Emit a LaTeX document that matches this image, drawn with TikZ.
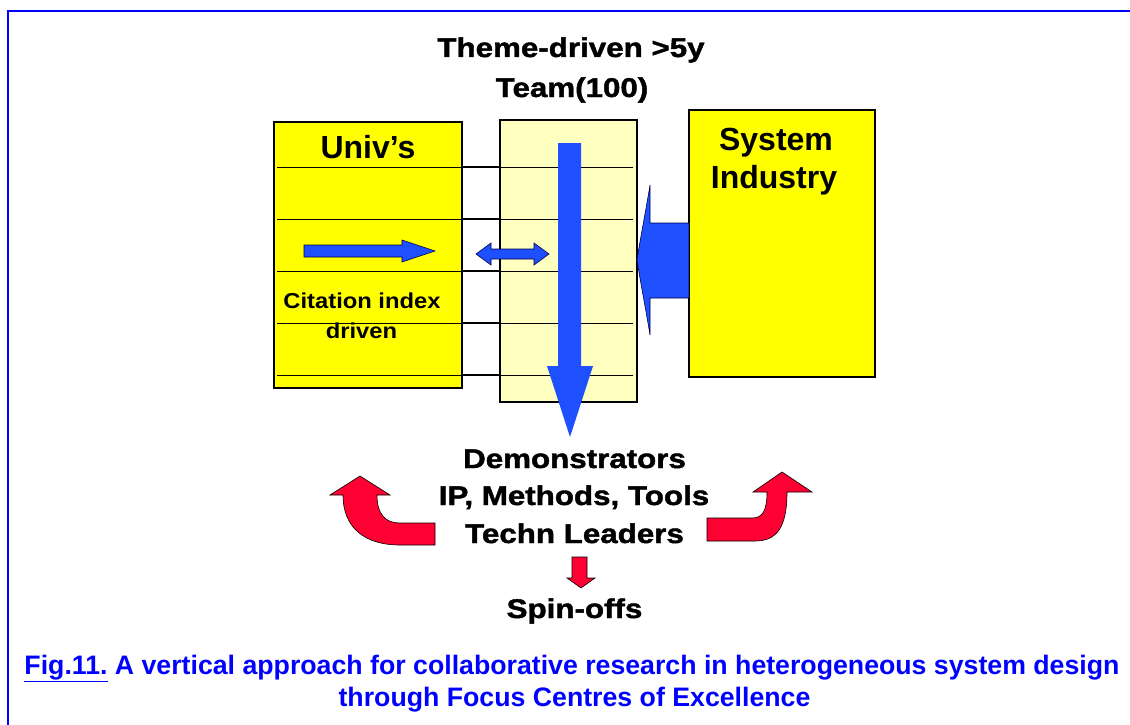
\documentclass[tikz,border=0pt]{standalone}
\usepackage{fontspec}
\setmainfont{Liberation Sans}
\newfontfamily\widefont{Liberation Sans}[FakeStretch=1.16, FakeBold=1.6]
\newfontfamily\midfont{Liberation Sans}[FakeStretch=1.1]
\definecolor{boxyellow}{RGB}{255,255,0}
\definecolor{paleyellow}{RGB}{255,255,192}
\definecolor{arrowblue}{RGB}{30,80,255}
\definecolor{arrowred}{RGB}{255,0,51}
\definecolor{frameblue}{RGB}{0,0,255}
\tikzset{
  boxnode/.style={draw=black, line width=1.2pt, inner sep=0pt},
  bigtext/.style={anchor=base, inner sep=0pt, font=\widefont\bfseries\fontsize{27}{32}\selectfont},
  boxtext/.style={anchor=base, inner sep=0pt, font=\bfseries\fontsize{32}{38}\selectfont},
  smalltext/.style={anchor=base, inner sep=0pt, font=\midfont\bfseries\fontsize{21.6}{26}\selectfont},
  captext/.style={anchor=base, inner sep=0pt, text=frameblue, font=\bfseries\fontsize{26.7}{32}\selectfont},
  bluearrow/.style={fill=arrowblue, draw=black!70!blue, line width=0.6pt},
  redarrow/.style={fill=arrowred, draw=black, line width=0.6pt},
  ruleline/.style={draw=black, line width=0.9pt},
  gapline/.style={draw=black, line width=1.8pt}
}
\begin{document}
\begin{tikzpicture}[x=1pt,y=-1pt]
\useasboundingbox (0,0) rectangle (1130,725);

% frame
\draw[frameblue, line width=2.5pt] (6.5,11) -- (1130,11);
\draw[frameblue, line width=1.5pt] (8,11) -- (8,725);

% the three columns
\node[boxnode, fill=boxyellow, minimum width=188pt, minimum height=266pt] (univ) at (368,255) {};
\node[boxnode, fill=paleyellow, minimum width=137pt, minimum height=282pt] (team) at (568.5,261) {};
\node[boxnode, fill=boxyellow, minimum width=186pt, minimum height=267pt] (sys) at (782,243.5) {};

% row lines across universities and team
\foreach \yy in {167,219,271,323,375} {
  \draw[ruleline] (277,\yy) -- (633,\yy);
  \draw[gapline] (univ.east |- 0,\yy) -- (team.west |- 0,\yy);
}

% arrow inside the universities box
\path[bluearrow] (304,245) -- (402,245) -- (402,240) -- (435,251) -- (402,262)
  -- (402,257) -- (304,257) -- cycle;

% exchange between universities and team
\path[bluearrow] (476,254) -- (491,243) -- (491,249) -- (534,249) -- (534,243)
  -- (549,254) -- (534,265) -- (534,259) -- (491,259) -- (491,265) -- cycle;

% industry pushing into the team
\path[bluearrow] (689,223) -- (650,223) -- (650,185)
  .. controls (646,210) and (640,240) .. (637,260)
  .. controls (640,280) and (646,310) .. (650,335)
  -- (650,298) -- (689,298) -- cycle;

% main vertical flow
\path[fill=arrowblue] (558,143) -- (581,143) -- (581,366) -- (593,366) -- (570,437)
  -- (547,366) -- (558,366) -- cycle;

% red arrows around the results
\path[redarrow] (435,545) -- (400,545)
  .. controls (365,545) and (343,528) .. (343,495)
  -- (330,495) -- (360,476) -- (390,495) -- (377,495)
  .. controls (377,514) and (385,523) .. (400,523)
  -- (435,523) -- cycle;
\path[redarrow] (707,541) -- (755,541)
  .. controls (775,541) and (787,530) .. (787,492)
  -- (812,492) -- (782,472) -- (753,492) -- (767,492)
  .. controls (767,510) and (763,518) .. (752,518)
  -- (707,518) -- cycle;
\path[redarrow] (572,557) -- (587,557) -- (587,578) -- (595,578) -- (581,588)
  -- (567,578) -- (572,578) -- cycle;

% texts
\node[bigtext] (theme) at (571,57) {Theme-driven >5y};
\node[bigtext] (teamlbl) at (572,97) {Team(100)};
\node[boxtext] (univlbl) at (368,158) {Univ’s};
\node[boxtext] (syslbl1) at (776,150) {System};
\node[boxtext] (syslbl2) at (774,188) {Industry};
\node[smalltext] (cit1) at (362,308) {Citation index};
\node[smalltext] (cit2) at (361.5,338) {driven};
\node[bigtext] (demo) at (574.5,468) {Demonstrators};
\node[bigtext] (ipm) at (574,505) {IP, Methods, Tools};
\node[bigtext] (techn) at (574.5,543) {Techn Leaders};
\node[bigtext] (spin) at (574.5,618) {Spin-offs};

% caption
\node[captext] (cap1) at (572,674) {\underline{Fig.11.} A vertical approach for collaborative research in heterogeneous system design};
\node[captext] (cap2) at (574.5,706) {through Focus Centres of Excellence};
\end{tikzpicture}
\end{document}
